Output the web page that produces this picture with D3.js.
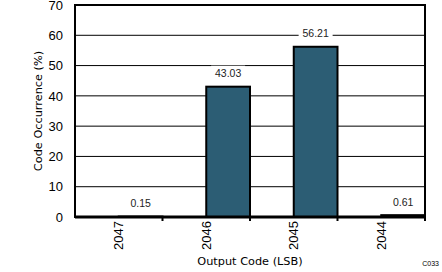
<!DOCTYPE html>
<html>
<head>
<meta charset="utf-8">
<script src="https://cdn.jsdelivr.net/npm/d3@7"></script>
<style>
  body { margin: 0; background: #fff; }
  svg { display: block; }
  .tick text { font-family: "Liberation Sans", Arial, sans-serif; font-size: 13px; fill: #000; }
  .title { font-family: "DejaVu Sans", Tahoma, sans-serif; font-size: 11.3px; fill: #000; }
  .val { font-family: "Liberation Sans", Arial, sans-serif; font-size: 10.5px; fill: #222; }
</style>
</head>
<body>
<svg id="chart"></svg>
<script>
// output codes and their share of hits (%)
const codes = ['2047', '2046', '2045', '2044'];
const occurrence = [0.15, 43.03, 56.21, 0.61];
const yTicks = [0, 10, 20, 30, 40, 50, 60, 70];

const width = 442, height = 272;
const margin = { top: 5, right: 17, bottom: 55, left: 75 };
const w = width - margin.left - margin.right;
const h = height - margin.top - margin.bottom;

const svg = d3.select('#chart').attr('width', width).attr('height', height);
const g = svg.append('g').attr('transform', 'translate(' + margin.left + ',' + margin.top + ')');

const x = d3.scaleBand().domain(codes).range([0, w]);
const y = d3.scaleLinear().domain([0, 70]).range([h, 0]);

// grid
g.selectAll('.grid').data(yTicks.slice(1, -1)).enter()
  .append('line')
  .attr('x1', 0).attr('x2', w)
  .attr('y1', d => y(d)).attr('y2', d => y(d))
  .attr('stroke', '#000').attr('stroke-width', 1);

// bars sit in the right half of each band
g.selectAll('.bar').data(codes).enter()
  .append('rect')
  .attr('x', d => x(d) + x.bandwidth() / 2)
  .attr('width', x.bandwidth() / 2)
  .attr('y', (d, i) => y(occurrence[i]))
  .attr('height', (d, i) => h - y(occurrence[i]))
  .attr('fill', '#2c5d74')
  .attr('stroke', '#000').attr('stroke-width', 2);

// value labels with white boxes
const labels = g.selectAll('.lbl').data(codes).enter().append('g')
  .attr('transform', (d, i) => 'translate(' + (x(d) + x.bandwidth() * 0.75) + ',' + (y(occurrence[i]) - 13) + ')');
labels.append('rect')
  .attr('x', -17).attr('y', -8).attr('width', 34).attr('height', 16)
  .attr('fill', '#fff');
labels.append('text')
  .attr('class', 'val')
  .attr('text-anchor', 'middle')
  .attr('dy', '0.35em')
  .text((d, i) => occurrence[i].toFixed(2));

// frame
g.append('rect')
  .attr('x', 0).attr('y', 0).attr('width', w).attr('height', h)
  .attr('fill', 'none').attr('stroke', '#000').attr('stroke-width', 2);

// y axis
const yAxis = g.append('g')
  .call(d3.axisLeft(y).tickValues(yTicks).tickSize(0).tickPadding(12));
yAxis.select('.domain').remove();

// x axis: ticks at band edges
const xAxis = g.append('g')
  .attr('transform', 'translate(0,' + h + ')')
  .call(d3.axisBottom(x).tickSize(0));
xAxis.select('.domain').remove();
xAxis.selectAll('.tick text')
  .attr('transform', 'rotate(-90)')
  .attr('text-anchor', 'end')
  .attr('x', -4).attr('y', 0).attr('dy', '0.35em');

g.selectAll('.edge').data(codes.slice(1).concat(['end'])).enter()
  .append('line')
  .attr('x1', (d, i) => x.step() * (i + 1)).attr('x2', (d, i) => x.step() * (i + 1))
  .attr('y1', h).attr('y2', h + 4)
  .attr('stroke', '#000').attr('stroke-width', 2);

g.append('line')
  .attr('x1', 0).attr('x2', w).attr('y1', h).attr('y2', h)
  .attr('stroke', '#000').attr('stroke-width', 3);

// titles
svg.append('text').attr('class', 'title')
  .attr('transform', 'translate(38,' + (margin.top + h / 2) + ') rotate(-90)')
  .attr('text-anchor', 'middle').attr('dy', '0.35em')
  .text('Code Occurrence (%)');

svg.append('text').attr('class', 'title')
  .attr('x', margin.left + w / 2).attr('y', 261)
  .attr('text-anchor', 'middle').attr('dy', '0.35em')
  .text('Output Code (LSB)');

svg.append('text')
  .attr('x', 439).attr('y', 266)
  .attr('text-anchor', 'end')
  .style('font-family', 'Liberation Sans, Arial, sans-serif')
  .style('font-size', '7px')
  .text('C033');
</script>
</body>
</html>
